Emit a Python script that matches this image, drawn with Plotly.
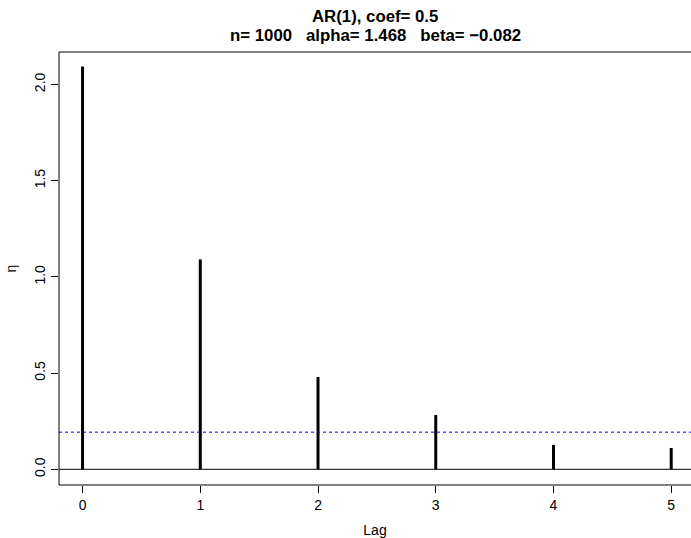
import plotly.graph_objects as go

lags = [0, 1, 2, 3, 4, 5]
eta = [2.093, 1.091, 0.48, 0.282, 0.127, 0.111]
conf_level = 0.193
x_ticks = [0, 1, 2, 3, 4, 5]
y_ticks = [0.0, 0.5, 1.0, 1.5, 2.0]
y_tick_labels = ["0.0", "0.5", "1.0", "1.5", "2.0"]
title_line1 = "AR(1), coef= 0.5"
title_line2 = "n= 1000   alpha= 1.468   beta= \u22120.082"

xs, ys = [], []
for l, v in zip(lags, eta):
    xs += [l, l, None]
    ys += [0, v, None]

fig = go.Figure()
fig.add_trace(go.Scatter(x=xs, y=ys, mode="lines",
                         line=dict(color="black", width=3), hoverinfo="skip",
                         showlegend=False))

font = "Liberation Sans, Arial, Helvetica, sans-serif"
fig.update_layout(
    width=691, height=538,
    margin=dict(l=59, r=0, t=52, b=53),
    plot_bgcolor="white", paper_bgcolor="white",
    font=dict(family=font, size=14, color="black"),
    xaxis=dict(range=[-0.2, 5.168], tickvals=x_ticks, ticktext=[str(t) for t in x_ticks],
               ticks="outside", ticklen=7, tickcolor="black", showgrid=False,
               zeroline=False, showline=False, automargin=False,
               tickfont=dict(size=14),
               title=dict(text="Lag", standoff=14, font=dict(size=14))),
    yaxis=dict(range=[-0.0816, 2.169], tickvals=y_ticks, ticktext=y_tick_labels,
               tickangle=-90, ticks="outside", ticklen=7, tickcolor="black",
               showgrid=False, zeroline=False, showline=False, automargin=False,
               tickfont=dict(size=14),
               title=dict(text="\u03b7", standoff=12, font=dict(size=14))),
    annotations=[
        dict(text="<b>" + title_line1 + "</b>", xref="paper", yref="paper", x=0.5, y=1,
             xanchor="center", yanchor="middle", yshift=35.5, showarrow=False,
             font=dict(family=font, size=16.8, color="black")),
        dict(text="<b>" + title_line2 + "</b>", xref="paper", yref="paper", x=0.5, y=1,
             xanchor="center", yanchor="middle", yshift=17, showarrow=False,
             font=dict(family=font, size=16.8, color="black")),
    ],
    shapes=[
        dict(type="line", xref="paper", yref="y", x0=0, x1=1, y0=0, y1=0,
             line=dict(color="black", width=1)),
        dict(type="line", xref="paper", yref="y", x0=0, x1=1, y0=conf_level, y1=conf_level,
             line=dict(color="blue", width=1, dash="3px,3px")),
        dict(type="line", xref="paper", yref="paper", x0=0, x1=0, y0=0, y1=1,
             line=dict(color="black", width=1)),
        dict(type="line", xref="paper", yref="paper", x0=0, x1=1, y0=0, y1=0,
             line=dict(color="black", width=1)),
        dict(type="line", xref="paper", yref="paper", x0=0, x1=1, y0=1, y1=1,
             line=dict(color="black", width=1)),
    ],
)

fig.write_html("out.html", config={"displayModeBar": False},
               post_script="document.body.style.margin='0';")
